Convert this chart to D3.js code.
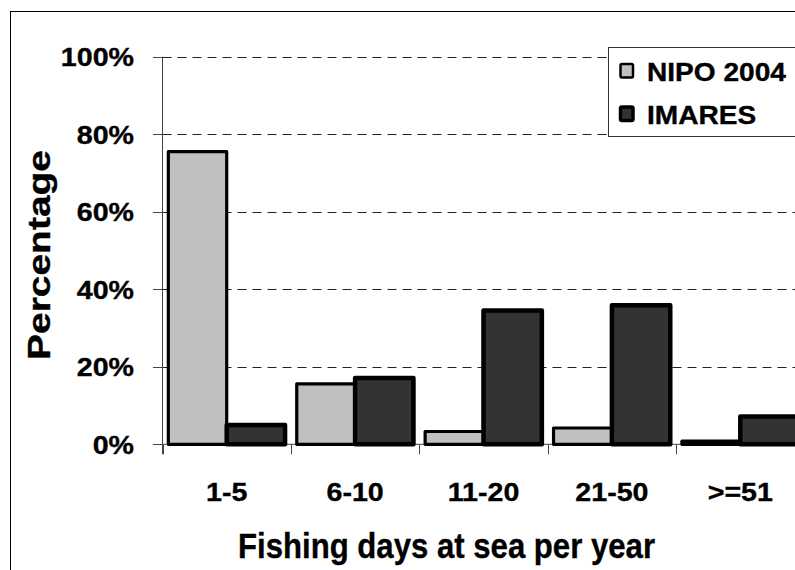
<!DOCTYPE html>
<html>
<head>
<meta charset="utf-8">
<script src="https://cdnjs.cloudflare.com/ajax/libs/d3/7.8.5/d3.min.js"></script>
<style>
  html, body { margin: 0; padding: 0; background: #fff; }
  svg { display: block; }
  text { font-family: "Liberation Sans", Arial, sans-serif; font-weight: bold; fill: #000;
         stroke: #000; stroke-width: 0.35px; }
</style>
</head>
<body>
<script>
// Share of fishing days at sea per year, two surveys
const categories = ["1-5", "6-10", "11-20", "21-50", ">=51"];
const seriesNames = ["NIPO 2004", "IMARES"];
const nipoValues = [75.5, 15.6, 3.3, 4.2, 0.8];
const imaresValues = [5.0, 17.1, 34.5, 35.9, 7.2];
const yTickValues = [0, 20, 40, 60, 80, 100];
const yTickLabels = ["0%", "20%", "40%", "60%", "80%", "100%"];

const W = 795, H = 570;
const fills = { "NIPO 2004": "#c0c0c0", "IMARES": "#333333" };
const strokes = { "NIPO 2004": 3.2, "IMARES": 4.5 };

const svg = d3.select("body").append("svg").attr("width", W).attr("height", H);

// outer chart frame (extends past the window on right and bottom)
svg.append("rect").attr("x", 10.5).attr("y", 11.5).attr("width", 900).attr("height", 700)
  .attr("fill", "#fff").attr("stroke", "#000").attr("stroke-width", 1);

const plotLeft = 162.5, plotTop = 56.7, plotBottom = 444.3, catStep = 128.4;
const plotRight = plotLeft + catStep * categories.length;

const y = d3.scaleLinear().domain([0, 100]).range([plotBottom, plotTop]);
const x0 = d3.scaleBand().domain(categories).range([plotLeft, plotRight]).padding(0);
const x1 = d3.scaleBand().domain(seriesNames).range([0, x0.bandwidth()]).paddingInner(0).paddingOuter(0.1);

// dashed gridlines
svg.append("g").selectAll("line").data(yTickValues.filter(v => v > 0)).join("line")
  .attr("x1", plotLeft).attr("x2", W + 20)
  .attr("y1", d => Math.round(y(d)) + 0.5).attr("y2", d => Math.round(y(d)) + 0.5)
  .attr("stroke", "#222").attr("stroke-width", 1).attr("stroke-dasharray", "9,6");

// y axis line and ticks
const axisColor = "#444";
svg.append("line").attr("x1", plotLeft).attr("x2", plotLeft)
  .attr("y1", plotTop).attr("y2", plotBottom + 10)
  .attr("stroke", axisColor).attr("stroke-width", 1);
svg.append("g").selectAll("line").data(yTickValues).join("line")
  .attr("x1", plotLeft - 9.5).attr("x2", plotLeft)
  .attr("y1", d => Math.round(y(d)) + 0.5).attr("y2", d => Math.round(y(d)) + 0.5)
  .attr("stroke", axisColor).attr("stroke-width", 1);

// y tick labels
svg.append("g").selectAll("text").data(yTickValues).join("text")
  .attr("transform", d => `translate(134,${y(d) + 9.5}) scale(1.1,1)`)
  .attr("text-anchor", "end").attr("font-size", 26)
  .text((d, i) => yTickLabels[i]);

// x axis line and category boundary ticks
svg.append("line").attr("x1", plotLeft).attr("x2", W + 20)
  .attr("y1", plotBottom).attr("y2", plotBottom)
  .attr("stroke", axisColor).attr("stroke-width", 1);
svg.append("g").selectAll("line").data(d3.range(categories.length + 1)).join("line")
  .attr("x1", i => Math.round(plotLeft + i * catStep) + 0.5)
  .attr("x2", i => Math.round(plotLeft + i * catStep) + 0.5)
  .attr("y1", plotBottom).attr("y2", plotBottom + 10)
  .attr("stroke", axisColor).attr("stroke-width", 1);

// bars
const rows = categories.map((c, i) => ({ cat: c, vals: [
  { s: "NIPO 2004", v: nipoValues[i] },
  { s: "IMARES", v: imaresValues[i] }
]}));
const groups = svg.append("g").selectAll("g").data(rows).join("g")
  .attr("transform", d => `translate(${x0(d.cat)},0)`);
groups.selectAll("rect").data(d => d.vals).join("rect")
  .attr("x", d => x1(d.s))
  .attr("width", x1.bandwidth())
  .attr("y", d => y(d.v))
  .attr("height", d => y(0) - y(d.v))
  .attr("fill", d => fills[d.s])
  .attr("stroke", "#000")
  .attr("stroke-width", d => strokes[d.s])
  .attr("stroke-linejoin", "round");

// x category labels
svg.append("g").selectAll("text").data(categories).join("text")
  .attr("transform", d => `translate(${x0(d) + x0.bandwidth() / 2},500.5) scale(1.1,1)`)
  .attr("text-anchor", "middle").attr("font-size", 26)
  .text(d => d);

// axis titles
svg.append("text").attr("x", 446.5).attr("y", 558)
  .attr("text-anchor", "middle").attr("font-size", 35)
  .attr("textLength", 417).attr("lengthAdjust", "spacingAndGlyphs")
  .text("Fishing days at sea per year");
svg.append("text").attr("transform", "translate(50,255) rotate(-90)")
  .attr("text-anchor", "middle").attr("font-size", 32)
  .attr("textLength", 210).attr("lengthAdjust", "spacingAndGlyphs")
  .text("Percentage");

// legend
const legend = svg.append("g");
legend.append("rect").attr("x", 608.5).attr("y", 47.5).attr("width", 300).attr("height", 89)
  .attr("fill", "#fff").attr("stroke", "#333").attr("stroke-width", 1);
const legendRows = legend.selectAll("g").data(seriesNames).join("g")
  .attr("transform", (d, i) => `translate(0,${i * 43})`);
legendRows.append("rect").attr("x", 620.5).attr("y", 64).attr("width", 12.5).attr("height", 13.5)
  .attr("rx", 1.5)
  .attr("fill", d => fills[d]).attr("stroke", "#000").attr("stroke-width", d => d === "IMARES" ? 3.5 : 2.5);
legendRows.append("text")
  .attr("transform", "translate(647,80.5) scale(1.08,1)")
  .attr("font-size", 26)
  .text(d => d);
</script>
</body>
</html>
